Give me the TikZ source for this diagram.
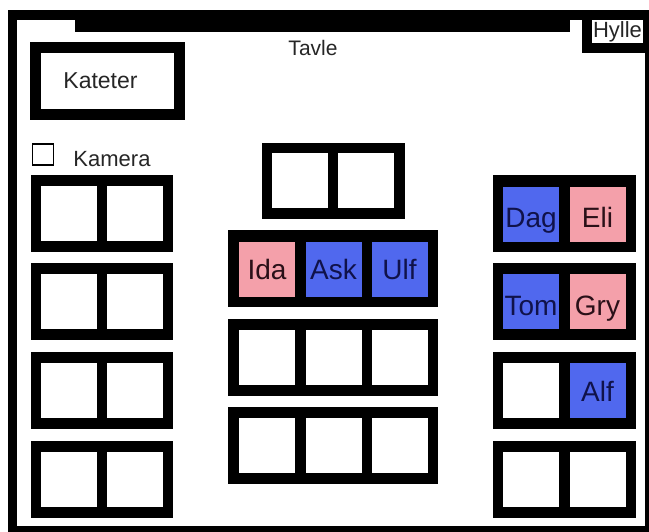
\documentclass[tikz,border=0pt]{standalone}
\usepackage{fontspec}
\setmainfont{Liberation Sans}
\definecolor{pinkc}{HTML}{F4A0AA}
\definecolor{bluec}{HTML}{5068EE}
\definecolor{pinktext}{HTML}{2A1018}
\definecolor{bluetext}{HTML}{10124A}
\newcommand{\seatfont}{\fontsize{28}{30}\selectfont}
\newcommand{\labfont}{\fontsize{22}{24}\selectfont}
\newcommand{\low}[2]{\raisebox{-#1pt}{#2}}
\tikzset{
  desk/.style={fill=black, inner sep=0pt, minimum height=77pt},
  deskII/.style={desk, minimum width=142pt},
  deskIII/.style={desk, minimum width=210pt},
  seat/.style={fill=white, inner sep=0pt, minimum width=56pt, minimum height=55pt, font=\seatfont, text height=20pt, text depth=0pt},
  girl/.style={seat, fill=pinkc, text=pinktext},
  boy/.style={seat, fill=bluec, text=bluetext},
  wall/.style={fill=black},
  lab/.style={inner sep=0pt, font=\labfont, text=black!85}
}
\begin{document}
\begin{tikzpicture}[x=1pt,y=-1pt]
\useasboundingbox (0,0) rectangle (649,532);
\fill[white] (0,0) rectangle (649,532);
% walls
\fill[wall] (8,10) rectangle (17,532);
\fill[wall] (8,10) rectangle (649,20);
\fill[wall] (8,526) rectangle (649,532);
\fill[wall] (645,10) rectangle (649,532);
% board
\fill[wall] (75,10) rectangle (570,32);
% shelf
\fill[wall] (582,10) rectangle (649,53);
\node[fill=white, inner sep=0pt, minimum width=51pt, minimum height=23pt, font=\labfont, text=black!85] (hylle) at (617.5,31.5) {Hylle};
\node[lab, font=\fontsize{21}{23}\selectfont] (tavle) at (313,48) {Tavle};
% teacher desk
\node[draw=black, line width=11pt, fill=white, minimum width=144pt, minimum height=67pt, inner sep=0pt, font=\fontsize{23}{25}\selectfont, text=black!85] (kateter) at (107.5,81) {\hspace*{-14pt}Kateter};
% camera
\node[draw=black, line width=1.2pt, fill=white, minimum size=21pt, inner sep=0pt] (kambox) at (43,154.5) {};
\node[lab] (kamera) at (112,159) {Kamera};
% left column
\node[deskII] (L1) at (102,213.5) {};
\node[seat] (L1a) at (69,213.5) {};
\node[seat] (L1b) at (135,213.5) {};
\node[deskII] (L2) at (102,301.5) {};
\node[seat] (L2a) at (69,301.5) {};
\node[seat] (L2b) at (135,301.5) {};
\node[deskII] (L3) at (102,390.5) {};
\node[seat] (L3a) at (69,390.5) {};
\node[seat] (L3b) at (135,390.5) {};
\node[deskII] (L4) at (102,479) {};
\node[seat] (L4a) at (69,479) {};
\node[seat] (L4b) at (135,479) {};
% center column
\node[desk, minimum width=143pt, minimum height=76pt] (C0) at (333.5,181) {};
\node[seat] (C0a) at (300,181) {};
\node[seat] (C0b) at (366,181) {};
\node[deskIII] (C1) at (333,268.5) {};
\node[girl] (ida) at (267,269.5) {Ida};
\node[boy] (ask) at (333.5,269.5) {Ask};
\node[boy] (ulf) at (399.5,269.5) {Ulf};
\node[deskIII] (C2) at (333,357.5) {};
\node[seat] (C2a) at (267,357.5) {};
\node[seat] (C2b) at (333.5,357.5) {};
\node[seat] (C2c) at (399.5,357.5) {};
\node[deskIII] (C3) at (333,445.5) {};
\node[seat] (C3a) at (267,445.5) {};
\node[seat] (C3b) at (333.5,445.5) {};
\node[seat] (C3c) at (399.5,445.5) {};
% right column
\node[desk, minimum width=143pt] (R1) at (564.5,214) {};
\node[boy] (dag) at (531,214.5) {\low{3}{Dag}};
\node[girl] (eli) at (597.5,214.5) {\low{3}{Eli}};
\node[desk, minimum width=143pt] (R2) at (564.5,301.5) {};
\node[boy] (tom) at (531,302) {\low{3.5}{Tom}};
\node[girl] (gry) at (597.5,302) {\low{3.5}{Gry}};
\node[desk, minimum width=143pt] (R3) at (564.5,390.5) {};
\node[seat] (R3a) at (531,390.5) {};
\node[boy] (alf) at (597.5,390.5) {\low{1.5}{Alf}};
\node[desk, minimum width=143pt] (R4) at (564.5,479) {};
\node[seat] (R4a) at (531,479) {};
\node[seat] (R4b) at (597.5,479) {};
\end{tikzpicture}
\end{document}
